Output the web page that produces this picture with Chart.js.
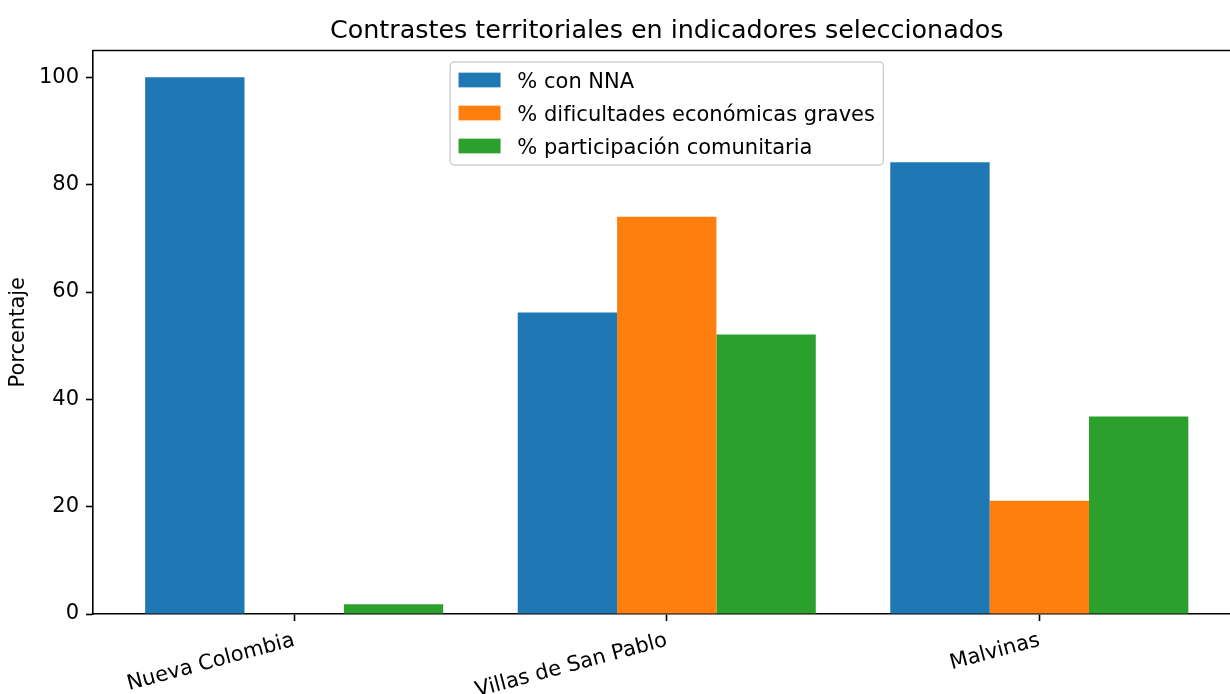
<!DOCTYPE html>
<html lang="es">
<head>
<meta charset="utf-8">
<title>Contrastes territoriales</title>
<script src="https://cdn.jsdelivr.net/npm/chart.js@4.4.1/dist/chart.umd.min.js"></script>
<style>
    html, body { margin: 0; padding: 0; background: #fff; }
    #wrap { width: 1230px; height: 694px; overflow: hidden; position: relative; }
    #chart { display: block; }
</style>
</head>
<body>
<div id="wrap">
    <canvas id="chart" width="1244" height="694" style="width:1244px;height:694px"></canvas>
</div>
<script>
// ─── Data ───
const CATEGORIES = ['Nueva Colombia', 'Villas de San Pablo', 'Malvinas'];
const SERIES_LABELS = ['% con NNA', '% dificultades económicas graves', '% participación comunitaria'];
const PCT_NNA = [100, 56.2, 84.2];
const PCT_DIFICULTADES = [0, 74.0, 21.1];
const PCT_PARTICIPACION = [1.8, 52.1, 36.8];
const Y_TICKS = [0, 20, 40, 60, 80, 100];
const TITLE = 'Contrastes territoriales en indicadores seleccionados';

const COLORS = ['#1f77b4', '#ff7f0e', '#2ca02c'];
const FONT = 'DejaVu Sans';

Chart.defaults.font.family = FONT;
Chart.defaults.color = '#000';

const toPoints = vals => CATEGORIES.map((c, i) => ({ x: i, y: vals[i] }));

const datasets = [PCT_NNA, PCT_DIFICULTADES, PCT_PARTICIPACION].map((vals, i) => ({
    label: SERIES_LABELS[i],
    data: toPoints(vals),
    backgroundColor: COLORS[i],
    borderWidth: 0,
    categoryPercentage: 0.8,
    barPercentage: 1.0
}));

// top + right spines, and the title centred over the axes (matplotlib style)
const framePlugin = {
    id: 'frame',
    afterDatasetsDraw(chart) {
        const { ctx, chartArea: a } = chart;
        ctx.save();
        ctx.strokeStyle = '#000';
        ctx.lineWidth = 1.6;
        ctx.beginPath();
        ctx.moveTo(a.left, a.top);
        ctx.lineTo(a.right, a.top);
        ctx.lineTo(a.right, a.bottom);
        ctx.stroke();

        ctx.font = `25.4px ${FONT}`;
        ctx.fillStyle = '#000';
        ctx.textAlign = 'center';
        ctx.textBaseline = 'alphabetic';
        ctx.fillText(TITLE, (a.left + a.right) / 2, a.top - 12.5);
        ctx.restore();
    }
};

// legend box drawn inside the axes, upper center
const legendPlugin = {
    id: 'innerLegend',
    afterDraw(chart) {
        const { ctx, chartArea: a } = chart;
        const fs = 21;
        const pad = 8.4, handleW = 42, handleH = 14.7, textPad = 16.8, rowH = 33;
        ctx.save();
        ctx.font = `${fs}px ${FONT}`;
        const items = chart.data.datasets.map(d => ({ label: d.label, color: d.backgroundColor }));
        const textW = Math.max(...items.map(it => ctx.measureText(it.label).width));
        const w = pad * 2 + handleW + textPad + textW;
        const h = 103;
        const x0 = (a.left + a.right) / 2 - w / 2;
        const y0 = a.top + 11.5;

        ctx.beginPath();
        ctx.roundRect(x0, y0, w, h, 4);
        ctx.fillStyle = 'rgba(255,255,255,0.8)';
        ctx.fill();
        ctx.strokeStyle = '#d0d0d0';
        ctx.lineWidth = 1.5;
        ctx.stroke();

        items.forEach((it, i) => {
            const cy = y0 + 18 + i * rowH;
            ctx.fillStyle = it.color;
            ctx.fillRect(x0 + pad, cy - handleH / 2, handleW, handleH);
            ctx.fillStyle = '#000';
            ctx.textBaseline = 'alphabetic';
            ctx.fillText(it.label, x0 + pad + handleW + textPad, cy + 0.365 * fs);
        });
        ctx.restore();
    }
};

new Chart(document.getElementById('chart'), {
    type: 'bar',
    data: { datasets },
    options: {
        responsive: false,
        animation: false,
        layout: { padding: { left: 0, top: 50.5, right: 3.5, bottom: 0 } },
        plugins: {
            legend: { display: false },
            tooltip: { enabled: false },
            title: { display: false }
        },
        scales: {
            x: {
                type: 'linear',
                min: -0.54,
                max: 2.54,
                offset: false,
                grid: { offset: false, drawOnChartArea: false, tickLength: 7, color: '#000', tickWidth: 1.6 },
                border: { color: '#000', width: 1.6 },
                afterBuildTicks: s => { s.ticks = CATEGORIES.map((c, i) => ({ value: i })); },
                afterFit: s => { s.height = 80; },
                ticks: {
                    callback: v => CATEGORIES[v] ?? '',
                    minRotation: 15,
                    maxRotation: 15,
                    padding: 7,
                    font: { size: 21 },
                    color: '#000'
                }
            },
            y: {
                min: 0,
                max: 105,
                grid: { drawOnChartArea: false, tickLength: 7, color: '#000', tickWidth: 1.6 },
                border: { color: '#000', width: 1.6 },
                afterBuildTicks: s => { s.ticks = Y_TICKS.map(v => ({ value: v })); },
                afterFit: s => { s.width = 93; },
                ticks: { padding: 7, font: { size: 21 }, color: '#000' },
                title: {
                    display: true,
                    text: 'Porcentaje',
                    font: { size: 21, family: FONT },
                    color: '#000',
                    padding: { top: 6, bottom: 0 }
                }
            }
        }
    },
    plugins: [framePlugin, legendPlugin]
});
</script>
</body>
</html>
